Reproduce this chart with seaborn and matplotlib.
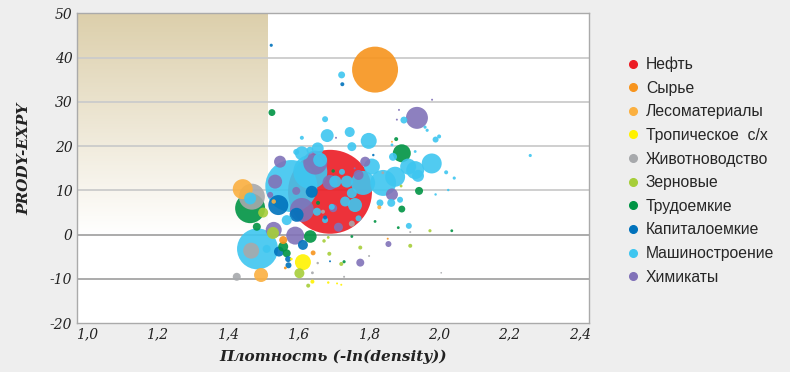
import numpy as np
import pandas as pd
import seaborn as sns
import matplotlib.pyplot as plt
from matplotlib.lines import Line2D
from matplotlib.colors import LinearSegmentedColormap

# (плотность, PRODY-EXPY, объём) для каждой группы товаров
neft = [(1.690, 9.7, 1764)]
syrye = [(1.818, 37.3, 529), (1.557, -1.2, 16), (1.642, -4.1, 6), (1.854, -0.9, 1),
         (1.563, -7.5, 2)]
lesomat = [(1.442, 10.3, 100), (1.494, -9.1, 49), (1.83, 6.2, 4), (1.866, 21.0, 1),
           (1.53, 7.5, 5)]
tropich = [(1.613, -6.2, 64), (1.64, -10.6, 4), (1.685, -10.8, 1.5), (1.71, -11.0, 1),
           (1.722, -11.3, 1), (1.58, -5.5, 2)]
zhivotn = [(1.468, 8.6, 169), (1.466, -3.6, 64), (1.425, -9.5, 16), (1.752, 2.5, 9),
           (1.67, 5.2, 4), (1.801, -4.8, 1), (2.006, -8.6, 0.7), (1.73, -9.5, 1),
           (1.918, 0.6, 1), (1.64, -8.6, 2), (1.655, -6.4, 1.5), (1.84, 14.0, 2)]
zernov = [(1.603, -8.7, 25), (1.528, 0.4, 36), (1.50, 5.0, 25), (1.628, -11.5, 4),
          (1.688, -4.3, 4), (1.673, -1.4, 3), (1.685, -0.6, 2), (1.776, -2.9, 4),
          (1.918, -2.5, 4), (1.722, -6.6, 4), (1.974, 0.9, 2.5), (1.892, 11.0, 2)]
trudoem = [(1.463, 6.0, 225), (1.894, 18.4, 81), (1.525, 27.6, 12), (1.634, -0.4, 40),
           (1.567, -4.2, 16), (1.482, 1.8, 16), (1.943, 9.9, 16), (1.894, 5.8, 12),
           (1.878, 21.6, 4), (1.818, 3.0, 2), (1.884, 1.6, 2), (2.036, 0.9, 2),
           (1.752, -0.4, 2), (1.73, -6.1, 2.5), (1.699, 14.4, 3), (1.656, 7.2, 4),
           (1.557, -2.7, 25)]
kapital = [(1.523, 42.8, 2.5), (1.725, 34.0, 4), (1.543, 6.7, 100), (1.595, 4.5, 49),
           (1.638, 9.7, 36), (1.545, -3.8, 25), (1.613, -2.3, 25), (1.571, -5.5, 9),
           (1.572, -6.9, 9), (1.69, -6.0, 1), (1.676, 3.9, 4), (1.813, 18.0, 1.5)]
mashin = [(1.484, -3.2, 420), (1.463, 8.2, 36), (1.580, 11.0, 676), (1.634, 14.2, 289),
          (1.723, 36.1, 12), (1.90, 25.9, 12), (1.96, 24.3, 2.5), (1.676, 26.1, 9),
          (1.682, 22.4, 42), (1.746, 23.2, 25), (1.752, 19.9, 20), (1.80, 21.2, 64),
          (1.61, 21.9, 4), (1.594, 18.7, 9), (1.633, 19.1, 12), (1.869, 17.6, 16),
          (1.809, 15.4, 64), (1.841, 11.7, 169), (1.875, 13.1, 100), (1.912, 15.4, 64),
          (1.932, 14.6, 81), (1.979, 16.1, 100), (1.940, 13.3, 36), (1.784, 11.7, 144),
          (2.02, 14.1, 4), (2.043, 12.8, 2.5), (2.026, 10.1, 1.5), (1.99, 9.1, 1.5),
          (1.864, 7.2, 16), (1.914, 2.0, 9), (2.259, 17.9, 2.5), (1.99, 21.5, 9),
          (2.0, 22.2, 4), (1.966, 23.6, 2.5), (1.932, 18.8, 2), (1.866, 20.3, 2),
          (1.51, -3.2, 16), (1.832, 7.2, 12), (1.889, 7.9, 9), (1.738, 12.0, 36),
          (1.752, 9.4, 25), (1.733, 7.5, 25), (1.761, 6.7, 49), (1.771, 3.7, 9),
          (1.724, 14.2, 9), (1.695, 6.3, 9), (1.676, 3.3, 9), (1.653, 5.2, 16),
          (1.705, 12.0, 36), (1.567, 3.3, 25), (1.662, 16.9, 49), (1.61, 18.4, 49),
          (1.655, 19.5, 36)]
himik = [(1.937, 26.4, 121), (1.98, 30.5, 1), (1.886, 28.2, 1), (1.88, 26.0, 1),
         (1.648, 16.3, 144), (1.548, 16.5, 36), (1.534, 12.0, 49), (1.594, 9.9, 16),
         (1.61, 5.6, 144), (1.69, 11.8, 56), (1.771, 13.5, 25), (1.79, 16.5, 25),
         (1.714, 1.7, 20), (1.53, 1.1, 64), (1.591, -0.2, 81), (1.52, 9.0, 9),
         (1.866, 9.1, 36), (1.856, -2.1, 9), (1.776, -6.3, 16), (1.699, 6.0, 16),
         (1.707, 21.9, 1), (1.76, 15.0, 1)]

groups = {
    'Нефть': neft,
    'Сырье': syrye,
    'Лесоматериалы': lesomat,
    'Тропическое  с/х': tropich,
    'Животноводство': zhivotn,
    'Зерновые': zernov,
    'Трудоемкие': trudoem,
    'Капиталоемкие': kapital,
    'Машиностроение': mashin,
    'Химикаты': himik,
}
colors = ['#ec1c24', '#f7941d', '#fbb040', '#fff200', '#a7a9ac',
          '#a6ce39', '#009444', '#0072bc', '#3ec6f0', '#8172b8']
palette = dict(zip(groups.keys(), colors))

rows = [(name, x, y, v) for name, pts in groups.items() for x, y, v in pts]
df = pd.DataFrame(rows, columns=['group', 'density', 'prody', 'volume'])
df = df.sort_values('volume', ascending=False)

sns.set_theme(style='white')
plt.rcParams['font.family'] = ['DejaVu Serif']
plt.rcParams['axes.unicode_minus'] = False

fig, ax = plt.subplots(figsize=(7.9, 3.72), dpi=100)
fig.patch.set_facecolor('#eeeeee')
fig.subplots_adjust(left=0.097, right=0.7456, top=0.964, bottom=0.131)

# tan gradient in the upper-left corner
cmap = LinearSegmentedColormap.from_list('tan', ['#ffffff', '#dccfab'])
grad = np.linspace(0, 1, 256).reshape(-1, 1)
ax.imshow(grad, cmap=cmap, origin='lower', aspect='auto',
          extent=(0.97, 1.51, 0, 50), zorder=0)

for v in range(-10, 50, 10):
    ax.axhline(v, color='#a5a5a5' if v <= 0 else '#cbcbcb', lw=1.3, zorder=1)

vmax = df['volume'].max()
sns.scatterplot(data=df, x='density', y='prody', hue='group', size='volume',
                palette=palette, sizes=(0, 2.07 * vmax), size_norm=(0, vmax),
                alpha=0.9, linewidth=0, legend=False, ax=ax, zorder=3)

ax.set_xlim(0.97, 2.426)
ax.set_ylim(-20, 50)
ax.set_xticks(np.arange(1.0, 2.41, 0.2))
ax.set_xticklabels([f'{t:.1f}'.replace('.', ',') for t in np.arange(1.0, 2.41, 0.2)])
ax.set_yticks(range(-20, 51, 10))
ax.tick_params(length=0, labelsize=10, colors='#222222', pad=3)
for lab in ax.get_xticklabels() + ax.get_yticklabels():
    lab.set_style('italic')
for sp in ax.spines.values():
    sp.set_color('#aaaaaa')
    sp.set_linewidth(1)

ax.set_xlabel('Плотность (-ln(density))', fontsize=11, fontstyle='italic',
              fontweight='bold', color='#222222', labelpad=6)
ax.set_ylabel('PRODY-EXPY', fontsize=11, fontstyle='italic',
              fontweight='bold', color='#222222')
ax.yaxis.set_label_coords(-0.089, 0.53)

handles = [Line2D([], [], marker='o', ls='', color=c, markersize=5.5) for c in colors]
fig.legend(handles, list(groups.keys()), loc='upper left', bbox_to_anchor=(0.774, 0.886),
           frameon=False, handletextpad=0.3, labelspacing=0.55, handlelength=1.0,
           prop={'family': 'Liberation Sans', 'size': 11.3})

fig.savefig('out.png', dpi=100, facecolor=fig.get_facecolor())
